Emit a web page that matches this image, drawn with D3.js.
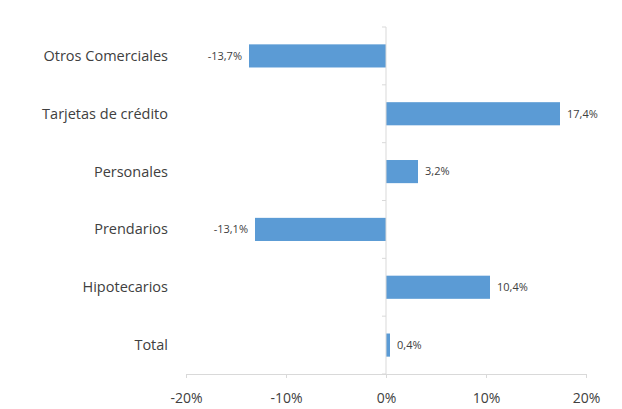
<!DOCTYPE html>
<html>
<head>
<meta charset="utf-8">
<script src="https://cdn.jsdelivr.net/npm/d3@7"></script>
<style>
  html, body { margin: 0; padding: 0; background: #fff; }
  svg { display: block; }
  text { font-family: "Open Sans", "Liberation Sans", sans-serif; fill: #404040; }
</style>
</head>
<body>
<svg id="chart" width="622" height="409"></svg>
<script>
// Variación por tipo de préstamo (%)
const categories = ["Otros Comerciales", "Tarjetas de crédito", "Personales", "Prendarios", "Hipotecarios", "Total"];
const values = [-13.7, 17.4, 3.2, -13.1, 10.4, 0.4];
const tickValues = [-20, -10, 0, 10, 20];

const svg = d3.select("#chart");
const margin = { top: 27, right: 36, bottom: 35, left: 186 };
const width = 622 - margin.left - margin.right;
const height = 409 - margin.top - margin.bottom;

const g = svg.append("g").attr("transform", `translate(${margin.left},${margin.top})`);

const x = d3.scaleLinear().domain([-20, 20]).range([0, width]);
const y = d3.scaleBand().domain(categories).range([0, height]).paddingInner(0.6).paddingOuter(0.3);

const axisColor = "#d9d9d9";
const fmt = v => (v.toFixed(1) + "%").replace(".", ",");

// Bars
g.selectAll("rect.bar")
  .data(categories)
  .enter().append("rect")
  .attr("class", "bar")
  .attr("x", (d, i) => x(Math.min(0, values[i])))
  .attr("width", (d, i) => Math.abs(x(values[i]) - x(0)))
  .attr("y", d => y(d))
  .attr("height", y.bandwidth())
  .attr("fill", "#5b9bd5");

// Horizontal axis
const xAxis = g.append("g")
  .attr("transform", `translate(0,${height})`)
  .call(d3.axisBottom(x).tickValues(tickValues).tickSize(4).tickPadding(15).tickFormat(d => d + "%"));
xAxis.select(".domain").attr("stroke", axisColor);
xAxis.selectAll(".tick line").attr("stroke", axisColor);
xAxis.selectAll(".tick text").attr("font-size", 14).attr("fill", "#404040");

// Zero line with category boundary ticks
const step = y.step();
const boundaries = d3.range(categories.length + 1).map(i => i * step);
g.append("line")
  .attr("x1", x(0)).attr("x2", x(0))
  .attr("y1", 0).attr("y2", height)
  .attr("stroke", axisColor);
g.selectAll("line.btick")
  .data(boundaries)
  .enter().append("line")
  .attr("class", "btick")
  .attr("x1", x(0) - 4).attr("x2", x(0))
  .attr("y1", d => d).attr("y2", d => d)
  .attr("stroke", axisColor);

// Category labels
g.selectAll("text.cat")
  .data(categories)
  .enter().append("text")
  .attr("class", "cat")
  .attr("x", -18)
  .attr("y", d => y(d) + y.bandwidth() / 2)
  .attr("dy", "0.35em")
  .attr("text-anchor", "end")
  .attr("font-size", 14.5)
  .text(d => d);

// Value labels
g.selectAll("text.val")
  .data(categories)
  .enter().append("text")
  .attr("class", "val")
  .attr("x", (d, i) => values[i] < 0 ? x(values[i]) - 7 : x(values[i]) + 7)
  .attr("y", d => y(d) + y.bandwidth() / 2)
  .attr("dy", "0.35em")
  .attr("text-anchor", (d, i) => values[i] < 0 ? "end" : "start")
  .attr("font-size", 11)
  .text((d, i) => fmt(values[i]));
</script>
</body>
</html>
